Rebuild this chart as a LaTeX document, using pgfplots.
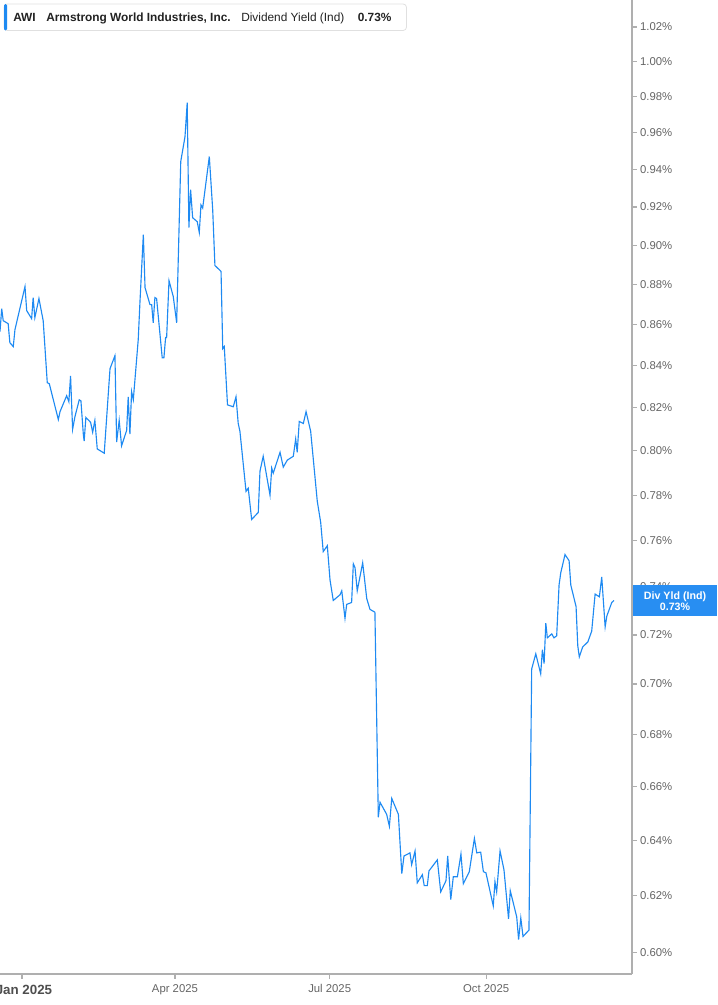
\documentclass[border=0pt]{standalone}
\usepackage{fontspec}
\setmainfont{Liberation Sans}
\usepackage{pgfplots}
\pgfplotsset{compat=1.18}
\definecolor{lineblue}{RGB}{30,138,242}
\definecolor{boxblue}{RGB}{40,142,242}
\definecolor{axgrey}{RGB}{175,175,175}
\definecolor{txtgrey}{RGB}{100,100,100}
\definecolor{hdrtxt}{RGB}{34,34,34}
\begin{document}
\begin{tikzpicture}
\path[use as bounding box] (0pt,0pt) rectangle (537.75pt,753.75pt);
\begin{axis}[
  at={(0pt,23.25pt)}, anchor=south west, scale only axis,
  width=474pt, height=730.5pt,
  xmin=-12.9, xmax=358.8,
  ymode=log, ymin=0.5928, ymax=1.0359,
  axis x line=bottom, axis y line=right,
  every non boxed x axis/.append style={x axis line style=-},
  every non boxed y axis/.append style={y axis line style=-},
  x axis line style={-, axgrey, line width=1.4pt},
  y axis line style={-, axgrey, line width=1.1pt},
  xtick={0,90,181,273},
  xticklabels={\textbf{\fontsize{10pt}{12pt}\selectfont\color{hdrtxt!80}\hspace*{3pt}Jan 2025},Apr 2025,Jul 2025,Oct 2025},
  ytick={0.60,0.62,0.64,0.66,0.68,0.70,0.72,0.74,0.76,0.78,0.80,0.82,0.84,0.86,0.88,0.90,0.92,0.94,0.96,0.98,1.00,1.02},
  yticklabels={0.60\%,0.62\%,0.64\%,0.66\%,0.68\%,0.70\%,0.72\%,0.74\%,0.76\%,0.78\%,0.80\%,0.82\%,0.84\%,0.86\%,0.88\%,0.90\%,0.92\%,0.94\%,0.96\%,0.98\%,1.00\%,1.02\%},
  tick align=outside,
  major tick length=3.5pt,
  tick style={axgrey, line width=0.9pt},
  minor tick num=0,
  xticklabel style={font=\fontsize{8.5pt}{10pt}\selectfont, text=txtgrey, anchor=north, yshift=-1pt},
  yticklabel style={font=\fontsize{8.5pt}{10pt}\selectfont, text=txtgrey, anchor=west, xshift=-1pt},
  clip=true,
]
\addplot[lineblue, line width=0.85pt, no markers] coordinates {
(-12.9,0.8566) (-11.9,0.868) (-11.0,0.862) (-8.1,0.8605) (-7.1,0.8512) (-5.1,0.8493) (-4.1,0.8576)
(1.8,0.879) (2.8,0.867) (5.7,0.863) (6.6,0.8735) (7.6,0.8635) (10.0,0.873) (12.5,0.862)
(14.9,0.8319) (16.1,0.8314) (21.4,0.8145) (22.4,0.8182) (26.3,0.8257) (27.6,0.8229) (28.6,0.8352)
(29.8,0.810) (31.2,0.8159) (33.7,0.8238) (34.7,0.8233) (36.1,0.8077) (36.6,0.8045) (37.6,0.8155)
(40.4,0.8132) (41.6,0.8086) (42.9,0.8141) (44.3,0.8009) (48.4,0.7991) (51.8,0.8386) (54.7,0.8449)
(55.7,0.8041) (57.2,0.8141) (58.6,0.8023) (61.6,0.8095) (62.5,0.8252) (63.5,0.8077) (64.5,0.8276)
(65.5,0.8238) (68.4,0.8527) (69.4,0.871) (71.4,0.9056) (72.4,0.8785) (75.3,0.870) (76.3,0.870)
(77.2,0.861) (78.2,0.8735) (79.2,0.873) (82.5,0.8439) (83.5,0.8439) (84.5,0.8537) (85.1,0.8537)
(86.5,0.882) (89.0,0.874) (91.0,0.861) (93.4,0.9443) (95.9,0.9578) (97.2,0.9767) (98.2,0.9092)
(99.2,0.9292) (100.4,0.9144) (103.1,0.9123) (104.3,0.9067) (105.3,0.9211) (106.3,0.9195) (110.2,0.947)
(112.2,0.9185) (113.5,0.8897) (117.1,0.8867) (118.1,0.8483) (119.0,0.8493) (120.9,0.8214) (124.3,0.8205)
(125.9,0.8252) (127.2,0.8127) (128.2,0.8091) (131.8,0.7818) (133.1,0.7832) (135.1,0.7693) (139.0,0.7724)
(140.0,0.7909) (141.9,0.7977) (145.9,0.780) (146.9,0.7923) (147.8,0.790) (151.8,0.7995) (153.7,0.7927)
(156.1,0.7959) (159.6,0.7977) (161.0,0.8055) (161.9,0.7995) (163.1,0.8136) (165.5,0.8127) (167.1,0.8182)
(169.8,0.8091) (173.7,0.7773) (175.7,0.768) (177.2,0.7552) (179.6,0.7578) (181.2,0.743) (183.1,0.7343)
(187.1,0.7367) (188.1,0.7384) (190.0,0.7269) (191.0,0.7327) (193.9,0.7335) (194.9,0.750) (195.9,0.7483)
(197.2,0.7384) (200.4,0.7504) (202.8,0.7351) (204.7,0.7306) (207.6,0.7294) (209.6,0.6485) (210.6,0.6541)
(214.5,0.6496) (216.1,0.6452) (217.5,0.6556) (221.4,0.6496) (223.4,0.6279) (224.7,0.6343) (228.2,0.6354)
(229.2,0.6311) (231.2,0.6361) (232.5,0.6246) (235.5,0.6275) (236.6,0.6236) (238.4,0.6236) (239.4,0.6289)
(244.3,0.6329) (246.3,0.6214) (249.4,0.6254) (250.4,0.6343) (252.2,0.6186) (253.7,0.6268) (256.1,0.6268)
(258.2,0.635) (259.6,0.6243) (263.1,0.6286) (266.1,0.6407) (267.5,0.6354) (269.8,0.6357) (271.4,0.6286)
(272.9,0.6282) (277.2,0.6164) (278.2,0.625) (279.2,0.6214) (281.2,0.6361) (283.5,0.6293) (286.2,0.6118)
(287.2,0.6218) (291.0,0.6125) (292.1,0.6046) (293.4,0.6121) (294.7,0.6057) (298.2,0.6079) (299.8,0.7061)
(302.2,0.7122) (305.1,0.7041) (306.1,0.7139) (307.1,0.7082) (308.1,0.7249) (309.0,0.7188) (311.6,0.7204)
(312.9,0.7188) (314.5,0.7196) (315.9,0.7409) (316.9,0.7461) (319.4,0.7539) (321.8,0.7513) (322.8,0.7409)
(325.9,0.7318) (326.9,0.7155) (327.8,0.711) (329.8,0.7151) (332.8,0.7171) (335.1,0.7216) (337.1,0.7371)
(339.6,0.7359) (341.0,0.7443) (343.0,0.7233) (344.0,0.7278) (346.9,0.7335) (348.2,0.7343)
};
\end{axis}
\begin{scope}[x=0.75pt,y=0.75pt]
% header box
\draw[draw=black!12, fill=white, rounded corners=2.5pt, line width=0.6pt] (4,974.5) rectangle (406.5,1001);
\fill[lineblue, rounded corners=1pt] (4,974.5) rectangle (7,1001);
\begin{scope}[every node/.style={anchor=base west, inner sep=0pt, text=hdrtxt, font=\fontsize{8.9pt}{10pt}\selectfont}]
\node at (13,983.5) {\textbf{AWI}};
\node at (46,983.5) {\textbf{Armstrong World Industries, Inc.}};
\node at (241,983.5) {Dividend Yield (Ind)};
\node at (357.5,983.5) {\textbf{0.73\%}};
\end{scope}
% last value label
\fill[boxblue] (633,389) rectangle (717,420);
\node[text=white, font=\bfseries\fontsize{8pt}{8.6pt}\selectfont, align=center, inner sep=0pt] at (675,404) {Div Yld (Ind)\\0.73\%};
\end{scope}
\end{tikzpicture}
\end{document}
